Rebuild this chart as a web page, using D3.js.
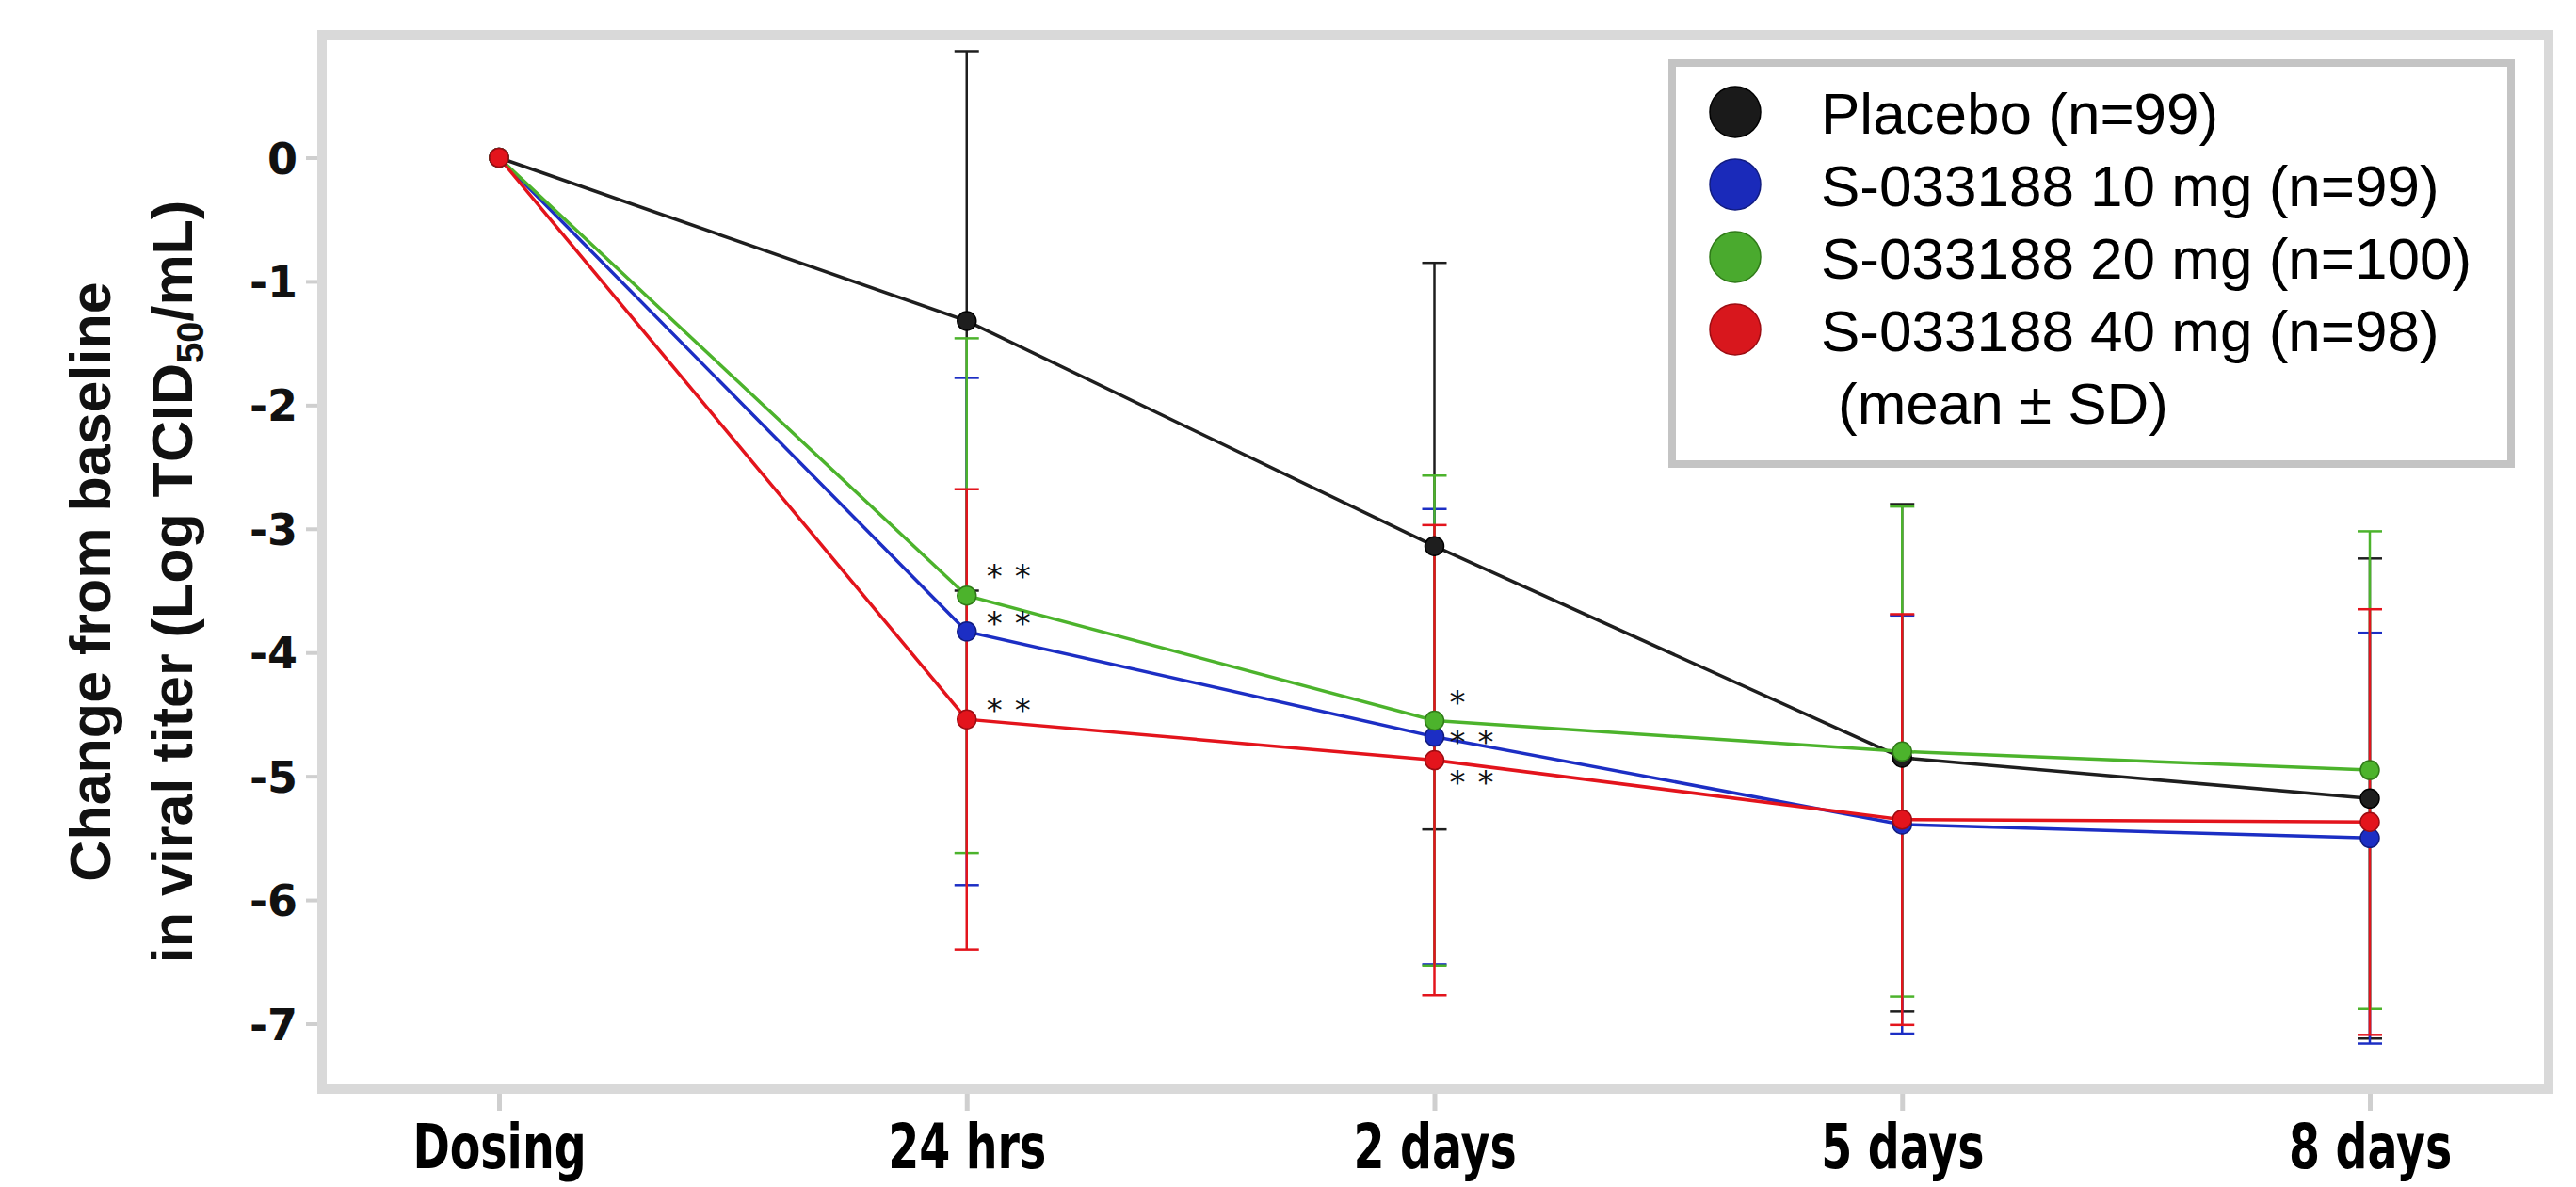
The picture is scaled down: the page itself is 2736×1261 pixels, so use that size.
<!DOCTYPE html>
<html>
<head>
<meta charset="utf-8">
<script src="https://cdn.jsdelivr.net/npm/d3@7"></script>
<style>
  body { margin: 0; background: #fff; }
  svg { display: block; }
</style>
</head>
<body>
<svg id="chart" width="2736" height="1261"></svg>
<script>
// time points on the x axis
const categories = ["Dosing", "24 hrs", "2 days", "5 days", "8 days"];

// legend labels, one per treatment group
const groupNames = ["Placebo (n=99)", "S-033188 10 mg (n=99)", "S-033188 20 mg (n=100)", "S-033188 40 mg (n=98)"];

// mean change from baseline (log TCID50/mL) and SD
const placeboMean = [0, -1.32, -3.14, -4.85, -5.18];
const placeboSD   = [0, 2.18, 2.29, 2.05, 1.94];
const mg10Mean    = [0, -3.83, -4.68, -5.39, -5.50];
const mg10SD      = [0, 2.05, 1.84, 1.69, 1.66];
const mg20Mean    = [0, -3.54, -4.55, -4.80, -4.95];
const mg20SD      = [0, 2.08, 1.98, 1.98, 1.93];
const mg40Mean    = [0, -4.54, -4.87, -5.35, -5.37];
const mg40SD      = [0, 1.86, 1.90, 1.66, 1.72];

const yTicks = [0, -1, -2, -3, -4, -5, -6, -7];

// significance stars next to the means
const sigMarks = [
    { group: 2, time: "24 hrs", text: "**" },
    { group: 1, time: "24 hrs", text: "**" },
    { group: 3, time: "24 hrs", text: "**" },
    { group: 2, time: "2 days", text: "*" },
    { group: 1, time: "2 days", text: "**" },
    { group: 3, time: "2 days", text: "**" }
];

// ---- styling / layout ----
const colors = ["#1e1e1e", "#1c2ec4", "#4cb32c", "#e3141c"];
const darker = ["#000000", "#111c80", "#2f7a18", "#9c0c12"];
const legendColors = ["#1a1a1a", "#1a2aba", "#4aaa2e", "#d8171d"];
// pixel offsets (star centre) of the star labels, relative to their point (same order as sigMarks)
const sigOffsets = [[21, -28], [21, -16], [21, -17], [16, -27], [16, -2], [16, 16]];
const starSize = 34;

const means = [placeboMean, mg10Mean, mg20Mean, mg40Mean];
const sds = [placeboSD, mg10SD, mg20SD, mg40SD];

const series = groupNames.map((name, i) => ({
    name: name,
    idx: i,
    values: categories.map((c, j) => ({ time: c, mean: means[i][j], sd: sds[i][j] }))
}));

const svg = d3.select("#chart");

const x = d3.scalePoint().domain(categories).range([530, 2517]);
const y = d3.scaleLinear().domain([0, -7]).range([167.5, 1087.5]);

// plot frame (thick light gray border)
svg.append("rect")
    .attr("x", 342).attr("y", 37)
    .attr("width", 2365).attr("height", 1120)
    .attr("fill", "#fff")
    .attr("stroke", "#d9d9d9")
    .attr("stroke-width", 10);

// y axis
const yAxis = svg.append("g")
    .attr("transform", "translate(337,0)")
    .call(d3.axisLeft(y)
        .tickValues(yTicks)
        .tickSize(12)
        .tickPadding(9)
        .tickFormat(d => d === 0 ? "0" : "-" + Math.abs(d)));
yAxis.select(".domain").remove();
yAxis.selectAll(".tick line").attr("stroke", "#cfcfcf").attr("stroke-width", 4);
yAxis.selectAll(".tick text")
    .attr("fill", "#111")
    .attr("dy", "0.36em")
    .style("font-family", "'DejaVu Sans', sans-serif")
    .style("font-weight", "bold")
    .style("font-size", "46px");

// x axis
const xAxis = svg.append("g")
    .attr("transform", "translate(0,1162)")
    .call(d3.axisBottom(x).tickSize(18).tickPadding(15));
xAxis.select(".domain").remove();
xAxis.selectAll(".tick line").attr("stroke", "#cfcfcf").attr("stroke-width", 5);
xAxis.selectAll(".tick text")
    .attr("fill", "#000")
    .style("font-family", "'DejaVu Sans', sans-serif")
    .style("font-weight", "bold")
    .style("font-size", "65px")
    .each(function () {
        // the labels in the figure are a condensed bold face
        const w = this.getComputedTextLength();
        d3.select(this).attr("textLength", w * 0.73).attr("lengthAdjust", "spacingAndGlyphs");
    });

// y axis title, two lines
const title = svg.append("g")
    .style("font-family", "'Liberation Sans', Arial, sans-serif")
    .style("font-weight", "bold")
    .style("font-size", "61px")
    .attr("fill", "#111");

title.append("text")
    .attr("transform", "translate(117,618) rotate(-90)")
    .attr("text-anchor", "middle")
    .text("Change from baseline");

const t2 = title.append("text")
    .attr("transform", "translate(204,618) rotate(-90)")
    .attr("text-anchor", "middle");
t2.append("tspan").text("in viral titer (Log TCID");
t2.append("tspan").attr("dy", 12).style("font-size", "40px").text("50");
t2.append("tspan").attr("dy", -12).text("/mL)");

// error bars first, so lines and points sit on top
const capW = 13;
const bars = svg.append("g").attr("class", "errorbars");
series.forEach(s => {
    const g = bars.append("g").attr("stroke", colors[s.idx]).attr("stroke-width", 2.5);
    const vals = s.values.filter(v => v.sd > 0);
    g.selectAll(".whisker").data(vals).join("line")
        .attr("x1", d => x(d.time)).attr("x2", d => x(d.time))
        .attr("y1", d => y(d.mean + d.sd)).attr("y2", d => y(d.mean - d.sd));
    g.selectAll(".capTop").data(vals).join("line")
        .attr("x1", d => x(d.time) - capW).attr("x2", d => x(d.time) + capW)
        .attr("y1", d => y(d.mean + d.sd)).attr("y2", d => y(d.mean + d.sd));
    g.selectAll(".capBot").data(vals).join("line")
        .attr("x1", d => x(d.time) - capW).attr("x2", d => x(d.time) + capW)
        .attr("y1", d => y(d.mean - d.sd)).attr("y2", d => y(d.mean - d.sd));
});

// mean lines
const line = d3.line().x(d => x(d.time)).y(d => y(d.mean));
svg.append("g").selectAll("path").data(series).join("path")
    .attr("d", d => line(d.values))
    .attr("fill", "none")
    .attr("stroke", d => colors[d.idx])
    .attr("stroke-width", 3.5);

// points
series.forEach(s => {
    svg.append("g").selectAll("circle").data(s.values).join("circle")
        .attr("cx", d => x(d.time))
        .attr("cy", d => y(d.mean))
        .attr("r", 10)
        .attr("fill", colors[s.idx])
        .attr("stroke", darker[s.idx])
        .attr("stroke-width", 1.5);
});

// significance stars
svg.append("g").selectAll("text").data(sigMarks).join("text")
    .attr("x", (d, i) => x(d.time) + sigOffsets[i][0])
    .attr("y", (d, i) => y(means[d.group][categories.indexOf(d.time)]) + sigOffsets[i][1] + starSize * 0.56)
    .attr("letter-spacing", 13)
    .attr("fill", "#111")
    .style("font-family", "'DejaVu Sans', sans-serif")
    .style("font-size", starSize + "px")
    .text(d => d.text);

// legend box
const legend = svg.append("g");
legend.append("rect")
    .attr("x", 1776).attr("y", 67)
    .attr("width", 891).attr("height", 426)
    .attr("fill", "#fff")
    .attr("stroke", "#c4c4c4")
    .attr("stroke-width", 8);

const rowH = 77;
const rows = legend.selectAll(".row").data(groupNames).join("g")
    .attr("transform", (d, i) => `translate(0,${119 + i * rowH})`);
rows.append("circle")
    .attr("cx", 1843).attr("cy", 0).attr("r", 27)
    .attr("fill", (d, i) => legendColors[i])
    .attr("stroke", (d, i) => darker[i])
    .attr("stroke-width", 1.5);
rows.append("text")
    .attr("x", 1934).attr("y", 23)
    .attr("fill", "#000")
    .style("font-family", "'Liberation Sans', Arial, sans-serif")
    .style("font-size", "62px")
    .text(d => d);

legend.append("text")
    .attr("x", 1952).attr("y", 119 + 4 * rowH + 23)
    .attr("fill", "#000")
    .style("font-family", "'Liberation Sans', Arial, sans-serif")
    .style("font-size", "62px")
    .text("(mean \u00B1 SD)");
</script>
</body>
</html>
